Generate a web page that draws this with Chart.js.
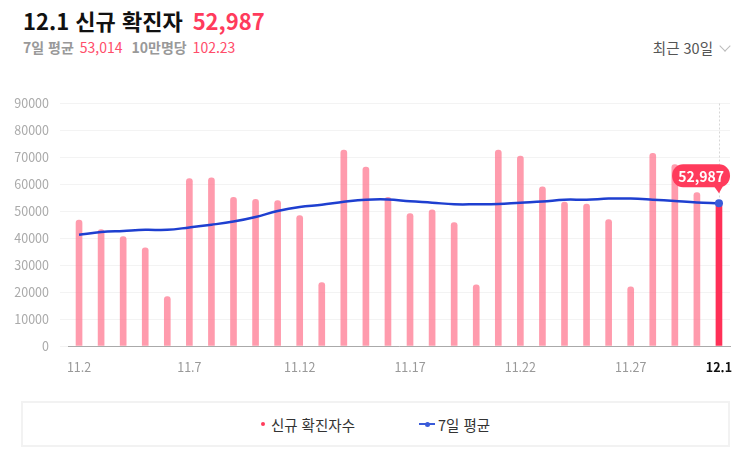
<!DOCTYPE html>
<html lang="ko">
<head>
<meta charset="utf-8">
<script src="https://cdn.jsdelivr.net/npm/chart.js@4/dist/chart.umd.min.js"></script>
<style>
  body { margin: 0; width: 743px; height: 451px; background: #fff; position: relative; overflow: hidden;
         font-family: "Noto Sans CJK KR", "Noto Sans", sans-serif; }
  .title { position: absolute; left: 23px; top: 4px; font-size: 22px; font-weight: 700; color: #111; }
  .title .num { color: #ff3b5c; margin-left: 10px; }
  .sub { position: absolute; left: 23px; top: 37px; font-size: 14px; color: #999; font-weight: 700; }
  .sub .v { color: #ff4d6a; font-weight: 400; margin-left: 2px; margin-right: 9px; }
  .range { position: absolute; right: 14px; top: 37px; font-size: 14.5px; color: #555; }
  .range .chev { display: inline-block; width: 7px; height: 7px; border-right: 1px solid #bbb; border-bottom: 1px solid #bbb;
                 transform: rotate(45deg); margin-left: 8px; position: relative; top: -4px; }
  #wrap { position: absolute; left: 0; top: 85px; width: 743px; height: 290px; }
  .legend { position: absolute; left: 21px; top: 401px; width: 705px; height: 42px; border: 2px solid #f2f2f2;
            display: flex; justify-content: center; align-items: center; font-size: 14.5px; color: #333; }
  .legend .item { display: flex; align-items: center; margin: 0 32px; }
  .legend .dot { width: 4px; height: 4px; border-radius: 50%; background: #ff3b5c; margin-right: 6px; }
  .legend .ln { position: relative; width: 16px; height: 2px; background: #3a5bd9; margin-right: 3px; }
  .legend .ln::after { content: ''; position: absolute; left: 6px; top: -1.5px; width: 5px; height: 5px; border-radius: 50%; background: #3a5bd9; }
</style>
</head>
<body>
<div class="title">12.1 신규 확진자<span class="num">52,987</span></div>
<div class="sub">7일 평균 <span class="v">53,014</span>10만명당 <span class="v">102.23</span></div>
<div class="range">최근 30일<span class="chev"></span></div>
<div id="wrap"><canvas id="chart"></canvas></div>
<div class="legend">
  <div class="item"><span class="dot"></span>신규 확진자수</div>
  <div class="item"><span class="ln"></span>7일 평균</div>
</div>
<script>
// --- Data ---
const dates = ['11.2', '11.3', '11.4', '11.5', '11.6', '11.7', '11.8', '11.9', '11.10', '11.11',
  '11.12', '11.13', '11.14', '11.15', '11.16', '11.17', '11.18', '11.19', '11.20', '11.21',
  '11.22', '11.23', '11.24', '11.25', '11.26', '11.27', '11.28', '11.29', '11.30', '12.1'];
const newCases = [46700, 43200, 40600, 36400, 18300, 62100, 62400, 55200, 54400, 54000,
  48400, 23500, 72700, 66400, 55200, 49100, 50500, 45800, 22700, 72700,
  70500, 59100, 53400, 52700, 46900, 22000, 71500, 67300, 56900, 52987];
const avg7 = [41300, 42300, 42700, 43100, 43100, 44000, 45000, 46200, 47900, 50100,
  51600, 52400, 53500, 54300, 54400, 53700, 53200, 52600, 52600, 52700,
  53200, 53600, 54300, 54300, 54700, 54700, 54300, 53800, 53300, 53014];
const shownTicks = ['11.2', '11.7', '11.12', '11.17', '11.22', '11.27', '12.1'];
const yMax = 90000;
const yStep = 10000;

const lastIdx = dates.length - 1;

// bubble over the latest point + dashed guide line
const bubblePlugin = {
  id: 'bubble',
  afterDatasetsDraw(chart) {
    const { ctx, chartArea } = chart;
    const pt = chart.getDatasetMeta(0).data[lastIdx];
    if (!pt) return;
    const x = pt.x, y = pt.y;
    ctx.save();
    // dashed vertical guide
    ctx.strokeStyle = '#d6d6d6';
    ctx.lineWidth = 1;
    ctx.setLineDash([2, 2]);
    ctx.beginPath();
    ctx.moveTo(Math.round(x) + 0.5, chartArea.top);
    ctx.lineTo(Math.round(x) + 0.5, y - 5);
    ctx.stroke();
    ctx.setLineDash([]);

    const label = newCases[lastIdx].toLocaleString('en-US');
    ctx.font = 'bold 14px "Noto Sans CJK KR", sans-serif';
    const w = ctx.measureText(label).width + 12;
    const h = 23;
    const right = Math.min(x + w / 2, chartArea.right);
    const left = right - w;
    const bottom = y - 16;
    const top = bottom - h;
    ctx.fillStyle = '#ff3b5c';
    ctx.beginPath();
    ctx.roundRect(left, top, w, h, 11);
    ctx.fill();
    ctx.beginPath();
    ctx.moveTo(x - 5, bottom - 1);
    ctx.lineTo(x + 4, bottom - 1);
    ctx.lineTo(x, bottom + 6);
    ctx.closePath();
    ctx.fill();
    ctx.fillStyle = '#fff';
    ctx.textAlign = 'center';
    ctx.textBaseline = 'middle';
    ctx.fillText(label, left + w / 2, top + h / 2 + 1);
    ctx.restore();
  }
};

new Chart(document.getElementById('chart'), {
  data: {
    labels: dates,
    datasets: [
      {
        type: 'line',
        label: '7일 평균',
        data: avg7,
        borderColor: '#1e3fd0',
        borderWidth: 2.5,
        tension: 0.4,
        pointRadius: ctx => ctx.dataIndex === lastIdx ? 4 : 0,
        pointBackgroundColor: '#3a5bd9',
        pointBorderWidth: 0,
        order: 0
      },
      {
        type: 'bar',
        label: '신규 확진자수',
        data: newCases,
        backgroundColor: ctx => ctx.dataIndex === lastIdx ? '#ff3057' : 'rgba(255, 122, 145, 0.75)',
        barThickness: 6,
        borderRadius: { topLeft: 3, topRight: 3 },
        borderSkipped: 'bottom',
        order: 1
      }
    ]
  },
  options: {
    responsive: true,
    maintainAspectRatio: false,
    animation: false,
    layout: { padding: { top: 12, right: 13, left: 0, bottom: 0 } },
    plugins: {
      legend: { display: false },
      tooltip: { enabled: false }
    },
    scales: {
      x: {
        offset: true,
        grid: { display: false },
        border: { color: '#aaaaaa' },
        ticks: {
          autoSkip: false,
          maxRotation: 0,
          padding: 6,
          color: ctx => ctx.index === lastIdx ? '#111' : '#999',
          font: ctx => ({ size: 12.5, weight: ctx.index === lastIdx ? 'bold' : 'normal', family: '"Noto Sans CJK KR", sans-serif' }),
          callback: (v, i) => shownTicks.includes(dates[i]) ? dates[i] : ''
        },
        afterFit: scale => { scale.height = 29; }
      },
      y: {
        min: 0,
        max: yMax,
        border: { display: false },
        grid: { color: '#f3f3f3' },
        ticks: {
          stepSize: yStep,
          padding: 11,
          color: '#aaa',
          font: { size: 12.5, family: '"Noto Sans CJK KR", sans-serif' },
          callback: v => String(v)
        },
        afterFit: scale => { scale.width = 68; }
      }
    }
  },
  plugins: [bubblePlugin]
});
</script>
</body>
</html>
